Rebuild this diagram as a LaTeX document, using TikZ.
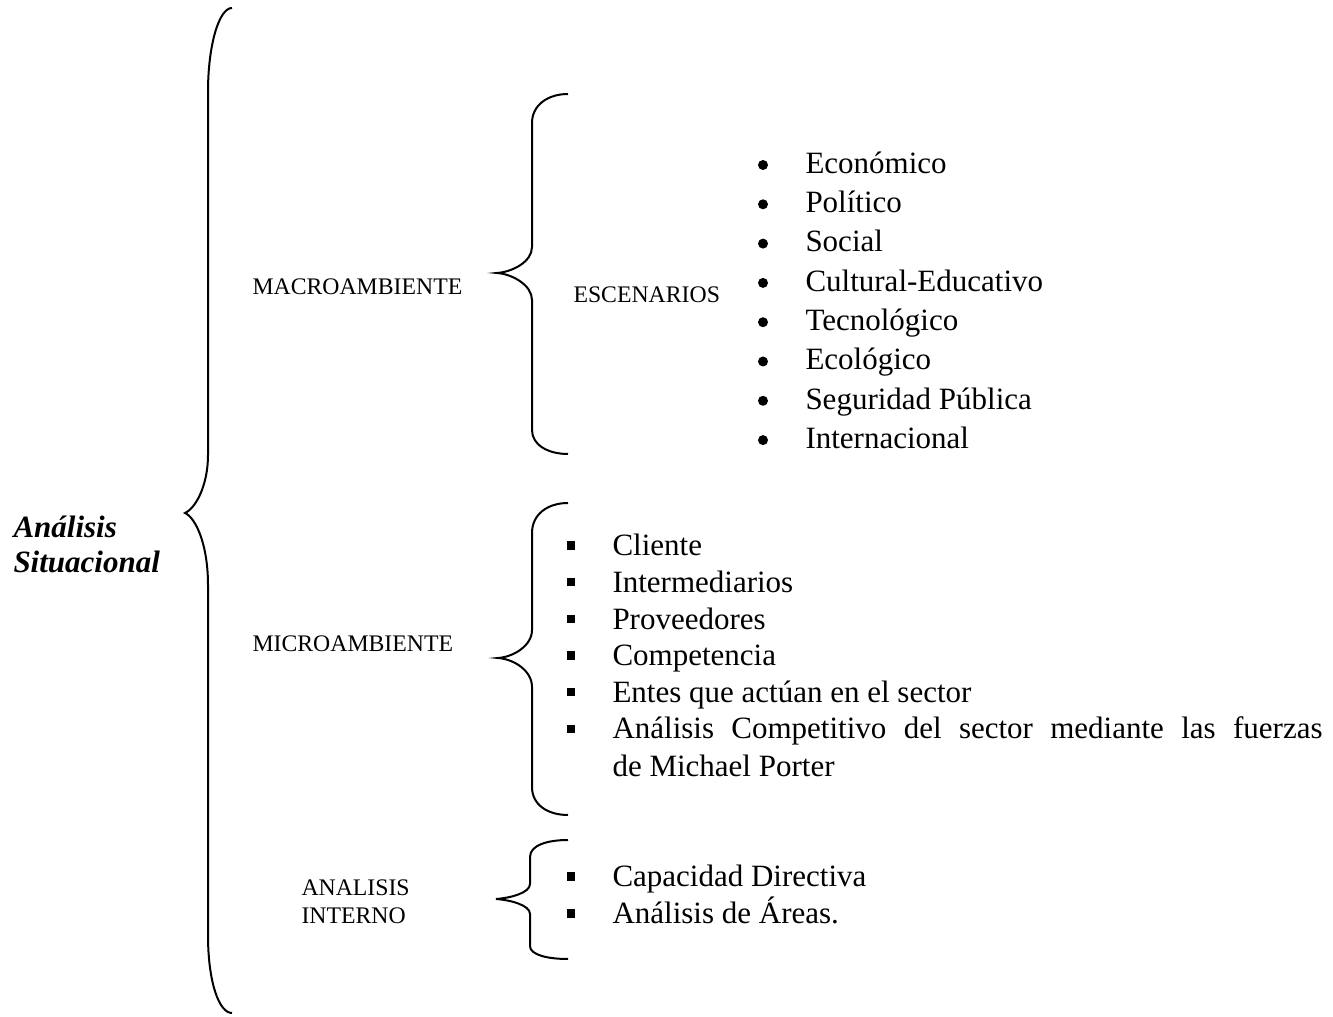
\documentclass[tikz,border=0pt]{standalone}
\usepackage{fontspec}
\setmainfont{Liberation Serif}

\begin{document}
\begin{tikzpicture}[x=0.4pt,y=-0.4pt,
  llave/.style={line width=0.8pt},
  item/.style={anchor=base west,inner sep=0pt,font=\fontsize{12.4}{15}\selectfont},
  punto/.style={circle,fill,inner sep=0pt,minimum size=4pt},
  cuadro/.style={anchor=south,inner sep=0pt},
  etiqueta/.style={anchor=base west,inner sep=0pt,font=\fontsize{9.5}{11}\selectfont},
  titulo/.style={anchor=base west,inner sep=0pt,font=\fontsize{12.4}{15}\selectfont\bfseries\itshape}]

  \useasboundingbox (0,0) rectangle (1333,1017);

  % TITULO
  \node[titulo] (ana) at (13,538) {Análisis};
  \node[titulo] (sit) at (13,573) {Situacional};

  % LLAVE PRINCIPAL
  \draw[llave] (232,8) .. controls (219,8) and (208,45) .. (208,92) -- (208,455)
    .. controls (208,485) and (196,508) .. (185,513)
    .. controls (196,518) and (208,545) .. (208,585) -- (208,935)
    .. controls (208,982) and (219,1013) .. (232,1013);

  % MACROAMBIENTE
  \node[etiqueta] (macro) at (252,295) {MACROAMBIENTE};
  \draw[llave] (568,94) .. controls (548,94) and (532,105) .. (532,123) -- (532,247)
    .. controls (532,262) and (512,272) .. (497,273)
    .. controls (512,274) and (532,285) .. (532,300) -- (532,430)
    .. controls (532,445) and (548,454) .. (568,454);
  \node[etiqueta] (esc) at (573,303) {ESCENARIOS};
  \foreach \t [count=\i from 0] in {Económico,Político,Social,Cultural-Educativo,
      Tecnológico,Ecológico,Seguridad Pública,Internacional}{
    \node[punto] (pm\i) at (763,{165+39.3*\i}) {};
    \node[item] (m\i) at (805,{173.3+39.3*\i}) {\t};
  }

  % MICROAMBIENTE
  \node[etiqueta] (micro) at (252,652) {MICROAMBIENTE};
  \draw[llave] (568,503) .. controls (548,503) and (532,514) .. (532,533) -- (532,630)
    .. controls (532,646) and (513,657) .. (498,658)
    .. controls (513,659) and (532,670) .. (532,687) -- (532,787)
    .. controls (532,805) and (548,815) .. (568,815);
  \foreach \t [count=\i from 0] in {Cliente,Intermediarios,Proveedores,Competencia,
      Entes que actúan en el sector}{
    \node[cuadro] (cm\i) at (571,{550.2+36.7*\i}) {\rule{3.4pt}{3.4pt}};
    \node[item] (n\i) at (612,{555.7+36.7*\i}) {\t};
  }
  \node[cuadro] (cm5) at (571,733.5) {\rule{3.4pt}{3.4pt}};
  \node[item] (n5) at (612,739) {\makebox[284pt][s]{Análisis Competitivo del sector mediante las fuerzas}};
  \node[item] (n6) at (612,776) {de Michael Porter};

  % ANALISIS INTERNO
  \node[etiqueta] (int1) at (301,895) {ANALISIS};
  \node[etiqueta] (int2) at (301,923) {INTERNO};
  \draw[llave] (568,840) .. controls (548,840) and (530,845) .. (530,857) -- (530,884)
    .. controls (530,893) and (510,898) .. (496,899)
    .. controls (510,900) and (530,905) .. (530,914) -- (530,946)
    .. controls (530,955) and (548,959) .. (568,959);
  \node[cuadro] (ci0) at (571,881) {\rule{3.4pt}{3.4pt}};
  \node[item] (i0) at (612,886.5) {Capacidad Directiva};
  \node[cuadro] (ci1) at (571,918) {\rule{3.4pt}{3.4pt}};
  \node[item] (i1) at (612,923.5) {Análisis de Áreas.};
\end{tikzpicture}
\end{document}
